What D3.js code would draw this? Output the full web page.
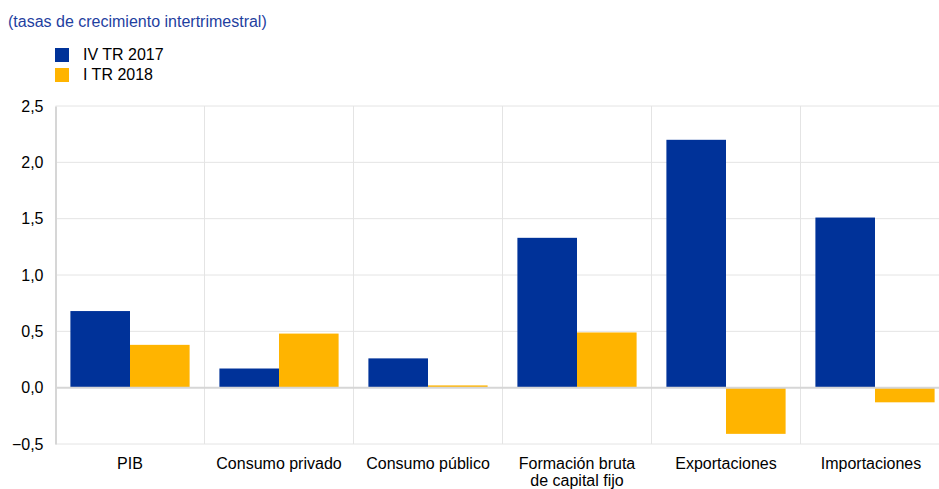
<!DOCTYPE html>
<html>
<head>
<meta charset="utf-8">
<script src="https://cdn.jsdelivr.net/npm/d3@7"></script>
<style>
  html, body { margin: 0; padding: 0; background: #fff; }
  svg { display: block; font-family: "Liberation Sans", Arial, sans-serif; }
</style>
</head>
<body>
<svg id="chart" width="939" height="489"></svg>
<script>
// Quarter-on-quarter growth rates by demand component
const categories = ["PIB", "Consumo privado", "Consumo público", "Formación bruta\nde capital fijo", "Exportaciones", "Importaciones"];
const seriesNames = ["IV TR 2017", "I TR 2018"];
const q4_2017 = [0.68, 0.17, 0.26, 1.33, 2.20, 1.51];
const q1_2018 = [0.38, 0.48, 0.02, 0.49, -0.41, -0.13];
const yTicks = [-0.5, 0, 0.5, 1.0, 1.5, 2.0, 2.5];
const colors = ["#003299", "#FFB400"];

const svg = d3.select("#chart");
const W = 939;
const plotLeft = 55.5, plotRight = 949.5;  // last category runs past the right edge

const x = d3.scaleBand()
  .domain(categories)
  .range([plotLeft, plotRight])
  .paddingInner(0).paddingOuter(0);

const y = d3.scaleLinear()
  .domain([-0.5, 2.5])
  .range([444, 106]);

const inner = d3.scaleBand()
  .domain(seriesNames)
  .range([0, x.bandwidth()])
  .paddingOuter(0.25).paddingInner(0);

const fontSize = 16;

// Title
svg.append("text")
  .attr("x", 8).attr("y", 27)
  .attr("fill", "#1f3f9f")
  .attr("font-size", fontSize)
  .text("(tasas de crecimiento intertrimestral)");

// Legend
const legend = svg.append("g");
seriesNames.forEach((s, i) => {
  legend.append("rect")
    .attr("x", 55).attr("y", 48 + i * 20)
    .attr("width", 14).attr("height", 14)
    .attr("fill", colors[i]);
  legend.append("text")
    .attr("x", 83).attr("y", 59.7 + i * 20)
    .attr("font-size", fontSize)
    .attr("fill", "#000")
    .text(s);
});

// Horizontal gridlines
svg.append("g")
  .selectAll("line")
  .data(yTicks.filter(d => d !== 0))
  .join("line")
  .attr("x1", plotLeft).attr("x2", W)
  .attr("y1", d => y(d)).attr("y2", d => y(d))
  .attr("stroke", "#e4e4e4").attr("stroke-width", 1);

// Vertical category separators
svg.append("g")
  .selectAll("line")
  .data(categories.slice(1))
  .join("line")
  .attr("x1", d => x(d)).attr("x2", d => x(d))
  .attr("y1", y(2.5)).attr("y2", y(-0.5))
  .attr("stroke", "#e4e4e4").attr("stroke-width", 1);

// Bars
const groups = svg.append("g")
  .selectAll("g")
  .data(categories.map((c, i) => ({ c, vals: [q4_2017[i], q1_2018[i]] })))
  .join("g")
  .attr("transform", d => `translate(${x(d.c)},0)`);

groups.selectAll("rect")
  .data(d => d.vals.map((v, j) => ({ v, s: seriesNames[j], j })))
  .join("rect")
  .attr("x", d => inner(d.s))
  .attr("width", inner.bandwidth())
  .attr("y", d => Math.min(y(d.v), y(0)))
  .attr("height", d => Math.abs(y(d.v) - y(0)))
  .attr("fill", d => colors[d.j]);

// Zero line
svg.append("line")
  .attr("x1", plotLeft).attr("x2", W)
  .attr("y1", y(0)).attr("y2", y(0))
  .attr("stroke", "#d6d6d6").attr("stroke-width", 2);

// Y axis
const yAxis = svg.append("g")
  .attr("transform", `translate(${plotLeft},0)`)
  .call(d3.axisLeft(y).tickValues(yTicks).tickSize(0).tickPadding(12)
    .tickFormat(d => d3.format(".1f")(d).replace(".", ",")));
yAxis.select(".domain").attr("stroke", "#d6d6d6").attr("stroke-width", 2);
yAxis.selectAll("text")
  .attr("font-size", fontSize)
  .attr("fill", "#000")
  .attr("font-family", "Liberation Sans, Arial, sans-serif");

// X category labels (centred on each band, kept inside the visible width)
svg.append("g")
  .selectAll("text")
  .data(categories)
  .join("text")
  .attr("y", 469)
  .attr("text-anchor", "middle")
  .attr("font-size", fontSize)
  .attr("fill", "#000")
  .each(function(d) {
    const cx = Math.min(x(d) + x.bandwidth() / 2, 871);
    d3.select(this).selectAll("tspan")
      .data(d.split("\n"))
      .join("tspan")
      .attr("x", cx)
      .attr("dy", (l, i) => i === 0 ? 0 : 17)
      .text(l => l);
  });
</script>
</body>
</html>
